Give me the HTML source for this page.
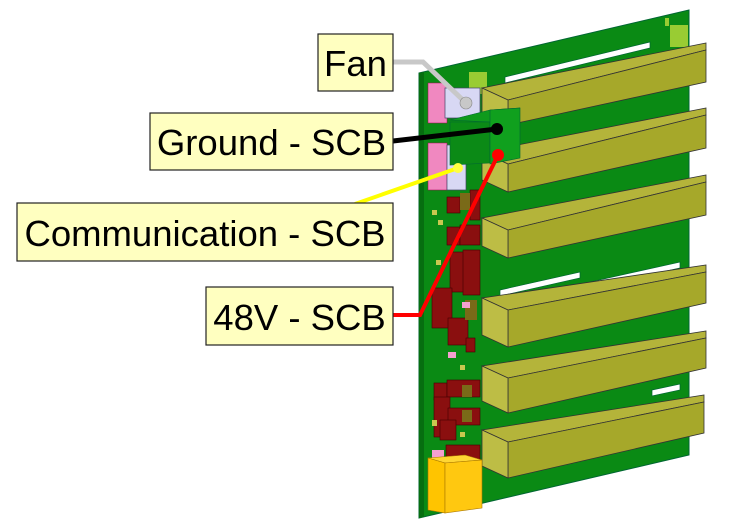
<!DOCTYPE html>
<html><head><meta charset="utf-8"><style>
html,body{margin:0;padding:0;background:#fff;}
svg{display:block;}
text{font-family:"Liberation Sans",sans-serif;font-size:36.5px;fill:#000;}
</style></head><body>
<svg width="738" height="530" viewBox="0 0 738 530" xmlns="http://www.w3.org/2000/svg">
<polygon points="419,73 689,10 689,455 419,518" fill="#0a8a14" stroke="#063" stroke-width="1"/>
<polygon points="419,73 424,72 424,517 419,518" fill="#066e10"/>
<g fill="#fff" stroke="#063" stroke-width="0.7">
<polygon points="505,77 650,42 650,48 505,83"/>
<polygon points="500,290 580,272 580,278 500,296"/>
<polygon points="500,302 680,262 680,268 500,308"/>
<polygon points="652,390 680,384 680,390 652,396"/>
</g>
<rect x="469" y="72" width="18" height="22" fill="#9c3"/>
<rect x="670" y="25" width="18" height="22" fill="#9c3"/>
<rect x="665" y="18" width="4" height="8" fill="#9c3"/>
<g stroke="#333" stroke-width="0.8">
<polygon points="482,88 706,43 706,50 508,100" fill="#b4b43a"/>
<polygon points="508,100 706,50 706,82 508,125" fill="#a6a82a"/>
<polygon points="482,88 508,100 508,125 482,113" fill="#bdbd45"/>
<polygon points="482,152 706,108 706,115 508,164" fill="#b4b43a"/>
<polygon points="508,164 706,115 706,148 508,192" fill="#a6a82a"/>
<polygon points="482,152 508,164 508,192 482,180" fill="#bdbd45"/>
<polygon points="482,218 706,175 706,182 508,230" fill="#b4b43a"/>
<polygon points="508,230 706,182 706,215 508,258" fill="#a6a82a"/>
<polygon points="482,218 508,230 508,258 482,246" fill="#bdbd45"/>
<polygon points="482,298 706,265 706,272 508,310" fill="#b4b43a"/>
<polygon points="508,310 706,272 706,303 508,347" fill="#a6a82a"/>
<polygon points="482,298 508,310 508,347 482,335" fill="#bdbd45"/>
<polygon points="482,366 706,331 706,338 508,378" fill="#b4b43a"/>
<polygon points="508,378 706,338 706,368 508,413" fill="#a6a82a"/>
<polygon points="482,366 508,378 508,413 482,401" fill="#bdbd45"/>
<polygon points="482,430 704,395 704,402 508,442" fill="#b4b43a"/>
<polygon points="508,442 704,402 704,433 508,478" fill="#a6a82a"/>
<polygon points="482,430 508,442 508,478 482,466" fill="#bdbd45"/>
</g>
<rect x="428" y="83" width="19" height="40" fill="#f088c0" stroke="#a05" stroke-width="0.5"/>
<rect x="445" y="88" width="35" height="30" fill="#d8d8f4" stroke="#446" stroke-width="0.7"/>
<rect x="428" y="143" width="19" height="47" fill="#f088c0" stroke="#a05" stroke-width="0.5"/>
<rect x="447" y="145" width="19" height="45" fill="#d8d8f4" stroke="#446" stroke-width="0.7"/>
<polygon points="450,120 490,110 520,108 490,122" fill="#0f9a1c" stroke="#063" stroke-width="0.6"/>
<polygon points="450,122 490,122 490,163 450,165" fill="#0b8a16" stroke="#063" stroke-width="0.6"/>
<polygon points="490,110 520,108 520,158 490,164" fill="#10a01e" stroke="#063" stroke-width="0.6"/>
<g fill="#8a0f0f" stroke="#400" stroke-width="0.6">
<rect x="447" y="197" width="13" height="16"/><rect x="470" y="190" width="10" height="30"/>
<rect x="447" y="227" width="13" height="18"/><rect x="460" y="225" width="20" height="20"/>
<rect x="450" y="252" width="14" height="40"/><rect x="463" y="250" width="17" height="45"/>
<rect x="432" y="288" width="20" height="40"/><rect x="448" y="318" width="20" height="27"/><rect x="466" y="338" width="9" height="14"/>
<rect x="434" y="383" width="13" height="17"/><rect x="447" y="380" width="33" height="17"/>
<rect x="434" y="397" width="16" height="40"/><rect x="448" y="408" width="32" height="17"/><rect x="440" y="420" width="16" height="20"/>
<rect x="446" y="445" width="34" height="15"/>
</g>
<g fill="#7a6a18"><rect x="460" y="193" width="10" height="17"/><rect x="465" y="300" width="12" height="20"/><rect x="462" y="385" width="10" height="12"/><rect x="462" y="410" width="10" height="12"/></g>
<g fill="#f4a0d0"><rect x="462" y="302" width="8" height="6"/><rect x="448" y="352" width="8" height="6"/><rect x="432" y="450" width="12" height="8"/></g>
<g fill="#c8c850"><rect x="432" y="210" width="5" height="5"/><rect x="438" y="220" width="5" height="5"/><rect x="436" y="260" width="5" height="5"/><rect x="460" y="365" width="5" height="5"/><rect x="432" y="420" width="5" height="6"/><rect x="460" y="432" width="5" height="5"/></g>
<polygon points="428,458 465,455 482,460 445,463" fill="#ffd633" stroke="#a70" stroke-width="0.6"/>
<polygon points="428,458 445,463 445,513 428,510" fill="#ffc400" stroke="#a70" stroke-width="0.6"/>
<polygon points="445,463 482,460 482,508 445,513" fill="#ffc810" stroke="#a70" stroke-width="0.6"/>
<polyline points="393,62 423,62 466,103" fill="none" stroke="#c8c8c8" stroke-width="5"/>
<circle cx="466" cy="103" r="6" fill="#c8c8c8" stroke="#888" stroke-width="0.6"/>
<line x1="393" y1="141" x2="497" y2="129" stroke="#000" stroke-width="5"/>
<circle cx="497" cy="129" r="6" fill="#000"/>
<line x1="355" y1="204" x2="458" y2="168" stroke="#ffff00" stroke-width="4"/>
<circle cx="458" cy="168" r="5" fill="#ffff40"/>
<polyline points="393,315 420,315 498,155" fill="none" stroke="#ff0000" stroke-width="4"/>
<circle cx="498" cy="155" r="6" fill="#ff0000"/>
<g fill="#ffffc0" stroke="#222" stroke-width="1.2">
<rect x="318" y="34" width="75" height="57"/>
<rect x="150" y="113" width="243" height="57"/>
<rect x="17" y="203" width="376" height="58"/>
<rect x="206" y="287" width="187" height="58"/>
</g>
<text x="355.5" y="76" text-anchor="middle">Fan</text>
<text x="271.5" y="155" text-anchor="middle">Ground - SCB</text>
<text x="205" y="246" text-anchor="middle">Communication - SCB</text>
<text x="299.5" y="330" text-anchor="middle">48V - SCB</text>
</svg>
</body></html>
